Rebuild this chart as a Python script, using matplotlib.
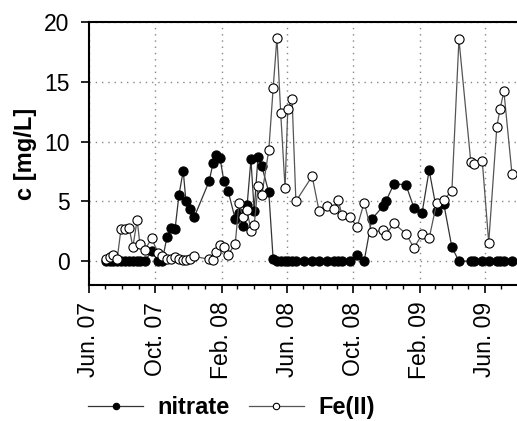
import numpy as np
import pandas as pd
import matplotlib
matplotlib.use("Agg")
import matplotlib.pyplot as plt
import matplotlib.dates as mdates

plt.rcParams['font.family'] = ['Liberation Sans', 'DejaVu Sans']

# sampling dates
nitrate_dates = [
    "2007-07-02", "2007-07-10", "2007-07-15", "2007-07-23", "2007-07-30", "2007-08-06",
    "2007-08-14", "2007-08-21", "2007-08-29", "2007-09-03", "2007-09-12", "2007-09-25",
    "2007-10-06", "2007-10-14", "2007-10-23", "2007-10-30", "2007-11-07", "2007-11-14",
    "2007-11-22", "2007-11-27", "2007-12-04", "2007-12-12",
    "2008-01-09", "2008-01-16", "2008-01-21", "2008-01-29", "2008-02-05", "2008-02-13",
    "2008-02-26", "2008-03-04", "2008-03-11", "2008-03-19", "2008-03-26", "2008-04-01",
    "2008-04-08", "2008-04-15", "2008-04-28", "2008-05-06", "2008-05-13", "2008-05-20",
    "2008-05-28", "2008-06-02", "2008-06-10", "2008-06-17", "2008-07-02", "2008-07-17",
    "2008-07-30", "2008-08-13", "2008-08-26", "2008-09-03", "2008-09-10", "2008-09-25",
    "2008-10-08", "2008-10-21", "2008-11-04", "2008-11-25", "2008-11-30", "2008-12-15",
    "2009-01-06", "2009-01-21", "2009-02-05", "2009-02-18", "2009-03-04", "2009-03-17",
    "2009-04-01", "2009-04-14", "2009-05-06", "2009-05-12", "2009-05-27", "2009-06-08",
    "2009-06-23", "2009-06-29", "2009-07-06", "2009-07-21",
]
nitrate = [
    0, 0, 0, 0, 0, 0, 0, 0, 0, 0, 0, 0.85,
    0, 0, 2.0, 2.75, 2.7, 5.5, 7.55, 5.0, 4.35, 3.65,
    6.7, 8.2, 8.9, 8.6, 6.7, 5.85, 3.5, 4.0, 2.9, 4.7, 8.5, 4.2,
    8.7, 7.95, 5.75, 0.15, 0, 0, 0, 0, 0, 0, 0, 0,
    0, 0, 0, 0, 0, 0, 0.55, 0, 3.5, 4.6, 5.0, 6.45,
    6.4, 4.45, 4.05, 7.6, 4.2, 4.8, 1.15, 0, 0, 0, 0, 0,
    0, 0, 0, 0,
]

# no Fe(II) sample on 2 Jul 2008
fe_dates = [d for d in nitrate_dates if d != "2008-07-02"]
fe2 = [
    0.15, 0.35, 0.5, 0.15, 2.65, 2.7, 2.8, 1.2, 3.45, 1.4, 0.95, 1.9,
    0.7, 0.4, 0.2, 0.2, 0.35, 0.2, 0.1, 0.1, 0.2, 0.4,
    0.15, 0.1, 0.8, 1.35, 1.15, 0.55, 1.45, 4.9, 3.65, 4.25, 2.5, 3.0,
    6.25, 5.5, 9.3, 14.45, 18.7, 12.35, 6.1, 12.7, 13.55, 5.0, 7.1,
    4.15, 4.6, 4.35, 5.15, 3.85, 3.7, 2.85, 4.9, 2.4, 2.6, 2.2, 3.15,
    2.3, 1.1, 2.25, 1.9, 4.9, 5.1, 5.9, 18.55, 8.25, 8.15, 8.4, 1.55,
    11.25, 12.75, 14.2, 7.25,
]

tick_dates = ["2007-06-01", "2007-10-01", "2008-02-01", "2008-06-01",
              "2008-10-01", "2009-02-01", "2009-06-01"]
tick_labels = ["Jun. 07", "Oct. 07", "Feb. 08", "Jun. 08", "Oct. 08", "Feb. 09", "Jun. 09"]

fig = plt.figure(figsize=(5.17, 4.21), dpi=100)
ax = fig.add_axes([0.1721, 0.323, 0.8298, 0.6247])

ax.plot(pd.to_datetime(nitrate_dates), nitrate, '-o', color='#333333', lw=0.9,
        ms=6.6, mfc='black', mec='black', mew=0.8, label='nitrate', zorder=3)
ax.plot(pd.to_datetime(fe_dates), fe2, '-o', color='#555555', lw=0.9,
        ms=6.6, mfc='white', mec='black', mew=0.8, label='Fe(II)', zorder=4)

ax.set_xlim(pd.Timestamp("2007-06-01"), pd.Timestamp("2009-08-01"))
ax.set_ylim(-2, 20)
ax.set_yticks([0, 5, 10, 15, 20])
ax.set_xticks(pd.to_datetime(tick_dates))
ax.set_xticklabels(tick_labels, rotation=90)
ax.xaxis.set_minor_locator(mdates.MonthLocator())

ax.grid(True, which='major', color='#888888', linestyle=(0, (1, 3.5)), lw=1.0)
ax.set_axisbelow(True)

for s in ['left', 'bottom', 'top']:
    ax.spines[s].set_linewidth(1.5)
ax.spines['right'].set_visible(False)

ax.tick_params(axis='both', which='major', direction='out', length=6, width=1.2,
               labelsize=16.5, pad=6)
ax.tick_params(axis='x', which='minor', direction='out', length=3, width=1)
ax.tick_params(axis='y', pad=8)

ax.set_ylabel('c [mg/L]', fontsize=17, fontweight='bold', labelpad=5)

leg = fig.legend(loc='center left', bbox_to_anchor=(0.170, 0.031), ncol=2,
                 frameon=False, borderpad=0, borderaxespad=0,
                 handlelength=2.35, handletextpad=0.6,
                 columnspacing=0.8, markerscale=0.7,
                 prop={'size': 17, 'weight': 'bold'})

fig.savefig('out.png', dpi=100)
